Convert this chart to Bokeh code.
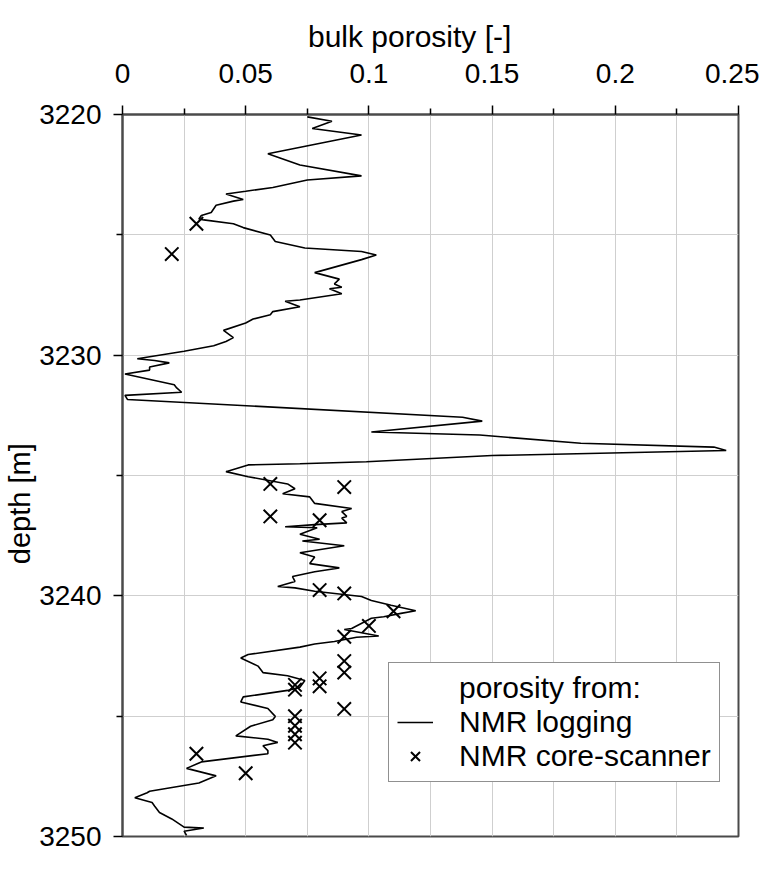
from bokeh.plotting import figure
from bokeh.models import FixedTicker, Range1d, Legend, LegendItem
from bokeh.embed import file_html
from bokeh.resources import INLINE

# ---------------- data ----------------
x_ticks = [0.0, 0.05, 0.1, 0.15, 0.2, 0.25]
x_tick_labels = ["0", "0.05", "0.1", "0.15", "0.2", "0.25"]
x_minor = [0.025, 0.075, 0.125, 0.175, 0.225]
y_ticks = [3220, 3230, 3240, 3250]
y_minor = [3225, 3235, 3245]

log_porosity = [
    0.075, 0.085, 0.077, 0.097, 0.059, 0.072, 0.097, 0.075, 0.061, 0.050,
    0.042, 0.049, 0.045, 0.038, 0.036, 0.032, 0.031, 0.033, 0.045, 0.049,
    0.060, 0.062, 0.074, 0.097, 0.103, 0.097, 0.078, 0.088, 0.086, 0.089,
    0.084, 0.089, 0.072, 0.066, 0.072, 0.061, 0.060, 0.053, 0.050, 0.041,
    0.045, 0.042, 0.037, 0.025, 0.006, 0.013, 0.019, 0.011, 0.011, 0.001,
    0.021, 0.022, 0.024, 0.001, 0.002, 0.138, 0.146, 0.101, 0.145, 0.186,
    0.240, 0.245, 0.150, 0.099, 0.072, 0.051, 0.042, 0.051, 0.067, 0.070,
    0.065, 0.076, 0.078, 0.093, 0.089, 0.091, 0.089, 0.091, 0.078, 0.066,
    0.079, 0.072, 0.080, 0.073, 0.090, 0.072, 0.078, 0.076, 0.088, 0.078,
    0.069, 0.070, 0.063, 0.070, 0.078, 0.097, 0.101, 0.109, 0.119, 0.113,
    0.106, 0.101, 0.093, 0.090, 0.104, 0.095, 0.086, 0.078, 0.072, 0.051,
    0.048, 0.055, 0.057, 0.067, 0.074, 0.072, 0.067, 0.049, 0.048, 0.059,
    0.062, 0.061, 0.052, 0.046, 0.059, 0.063, 0.057, 0.059, 0.059, 0.032,
    0.026, 0.038, 0.031, 0.011, 0.010, 0.005, 0.012, 0.013, 0.015, 0.020,
    0.025, 0.033, 0.025, 0.026,
]
log_depth = [
    3220.10, 3220.28, 3220.58, 3220.85, 3221.63, 3222.10, 3222.55, 3222.72, 3223.03, 3223.19,
    3223.30, 3223.53, 3223.60, 3223.77, 3224.07, 3224.20, 3224.34, 3224.38, 3224.54, 3224.70,
    3225.01, 3225.28, 3225.55, 3225.69, 3225.84, 3226.03, 3226.57, 3226.84, 3227.04, 3227.18,
    3227.24, 3227.45, 3227.71, 3227.76, 3227.99, 3228.19, 3228.32, 3228.50, 3228.66, 3228.97,
    3229.27, 3229.43, 3229.61, 3229.84, 3230.15, 3230.22, 3230.32, 3230.49, 3230.62, 3230.78,
    3231.23, 3231.36, 3231.54, 3231.67, 3231.84, 3232.58, 3232.74, 3233.19, 3233.32, 3233.66,
    3233.82, 3233.96, 3234.17, 3234.43, 3234.51, 3234.56, 3234.84, 3235.05, 3235.35, 3235.55,
    3235.76, 3235.89, 3236.16, 3236.37, 3236.50, 3236.70, 3236.77, 3236.97, 3237.04, 3237.13,
    3237.17, 3237.44, 3237.65, 3237.72, 3237.92, 3238.21, 3238.39, 3238.66, 3238.84, 3239.00,
    3239.20, 3239.40, 3239.61, 3239.67, 3239.81, 3240.03, 3240.19, 3240.39, 3240.62, 3240.73,
    3240.87, 3240.93, 3241.36, 3241.40, 3241.67, 3241.72, 3241.90, 3242.00, 3242.13, 3242.44,
    3242.58, 3242.92, 3243.19, 3243.32, 3243.52, 3243.80, 3243.93, 3244.20, 3244.41, 3244.68,
    3245.01, 3245.15, 3245.42, 3245.82, 3245.96, 3246.09, 3246.23, 3246.43, 3246.56, 3246.90,
    3247.17, 3247.48, 3247.78, 3248.12, 3248.18, 3248.39, 3248.59, 3248.73, 3249.00, 3249.27,
    3249.61, 3249.65, 3249.78, 3249.95,
]

core_porosity = [
    0.030, 0.020, 0.060, 0.090, 0.060, 0.080, 0.080, 0.090, 0.110, 0.100,
    0.090, 0.090, 0.090, 0.080, 0.080, 0.070, 0.070, 0.090, 0.070, 0.070,
    0.070, 0.070, 0.030, 0.050,
]
core_depth = [
    3224.54, 3225.80, 3235.35, 3235.48, 3236.70, 3236.86, 3239.76, 3239.90, 3240.64, 3241.25,
    3241.70, 3242.71, 3243.19, 3243.43, 3243.76, 3243.70, 3243.90, 3244.70, 3245.00, 3245.40,
    3245.75, 3246.10, 3246.56, 3247.37,
]

x_title = "bulk porosity [-]"
y_title = "depth [m]"
legend_header = "porosity from:"
series_names = ["NMR logging", "NMR core-scanner"]

# ---------------- figure ----------------
FONT = "Liberation Sans"
AXC = "#4a4a4a"
NBSP = "\u00a0"

p = figure(
    width=759, height=854,
    x_range=Range1d(0, 0.25), y_range=Range1d(3250, 3220),
    x_axis_location="above",
    output_backend="svg", toolbar_location=None,
    min_border_left=122, min_border_right=21,
    min_border_top=114, min_border_bottom=18,
)
p.background_fill_color = "white"
p.border_fill_color = "white"
p.outline_line_color = AXC
p.outline_line_width = 2

# x axis (top)
xa = p.xaxis[0]
xa.ticker = FixedTicker(ticks=x_ticks, minor_ticks=x_minor)
xa.major_label_overrides = {t: l for t, l in zip(x_ticks, x_tick_labels)}
xa.major_label_text_font = FONT
xa.major_label_text_font_size = "28px"
xa.major_label_text_color = "black"
xa.major_label_standoff = 23
xa.major_tick_out = 9
xa.major_tick_in = 0
xa.minor_tick_out = 6
xa.minor_tick_in = 0
xa.major_tick_line_color = "black"
xa.minor_tick_line_color = "black"
xa.major_tick_line_width = 1.5
xa.minor_tick_line_width = 1.5
xa.axis_line_color = AXC
xa.axis_line_width = 2
xa.axis_label = x_title + NBSP * 5
xa.axis_label_text_font = FONT
xa.axis_label_text_font_size = "30px"
xa.axis_label_text_font_style = "normal"
xa.axis_label_text_color = "black"
xa.axis_label_standoff = 8

# y axis (left)
ya = p.yaxis[0]
ya.ticker = FixedTicker(ticks=y_ticks, minor_ticks=y_minor)
ya.major_label_text_font = FONT
ya.major_label_text_font_size = "28px"
ya.major_label_text_color = "black"
ya.major_label_standoff = 12
ya.major_tick_out = 9
ya.major_tick_in = 0
ya.minor_tick_out = 6
ya.minor_tick_in = 0
ya.major_tick_line_color = "black"
ya.minor_tick_line_color = "black"
ya.major_tick_line_width = 1.5
ya.minor_tick_line_width = 1.5
ya.axis_line_color = AXC
ya.axis_line_width = 2
ya.axis_label = y_title + NBSP * 7
ya.axis_label_text_font = FONT
ya.axis_label_text_font_size = "29px"
ya.axis_label_text_font_style = "normal"
ya.axis_label_text_color = "black"
ya.axis_label_standoff = 0

# grids
GC = "#cfcfcf"
p.xgrid.ticker = FixedTicker(ticks=x_ticks, minor_ticks=x_minor)
p.ygrid.ticker = FixedTicker(ticks=y_ticks, minor_ticks=y_minor)
for g in (p.xgrid[0], p.ygrid[0]):
    g.grid_line_color = GC
    g.grid_line_width = 1
    g.minor_grid_line_color = GC
    g.minor_grid_line_width = 1

# data
dummy = p.line([], [], line_alpha=0)
log_r = p.line(log_porosity, log_depth, line_color="black", line_width=1.6)
core_r = p.scatter(core_porosity, core_depth, marker="x", size=19,
                   line_color="black", line_width=2)

legend = Legend(
    items=[
        LegendItem(label=legend_header, renderers=[dummy]),
        LegendItem(label=series_names[0], renderers=[log_r]),
        LegendItem(label=series_names[1], renderers=[core_r]),
    ],
    location=(266, 54),
    label_text_font=FONT, label_text_font_size="30px", label_text_color="black",
    glyph_width=36, glyph_height=32, label_height=32, label_standoff=26,
    spacing=-4, padding=8, margin=0,
    border_line_color="#222222", border_line_width=1.5,
    background_fill_color="white", background_fill_alpha=1.0,
)
p.add_layout(legend, "center")

open("out.html", "w").write(file_html(p, INLINE))
